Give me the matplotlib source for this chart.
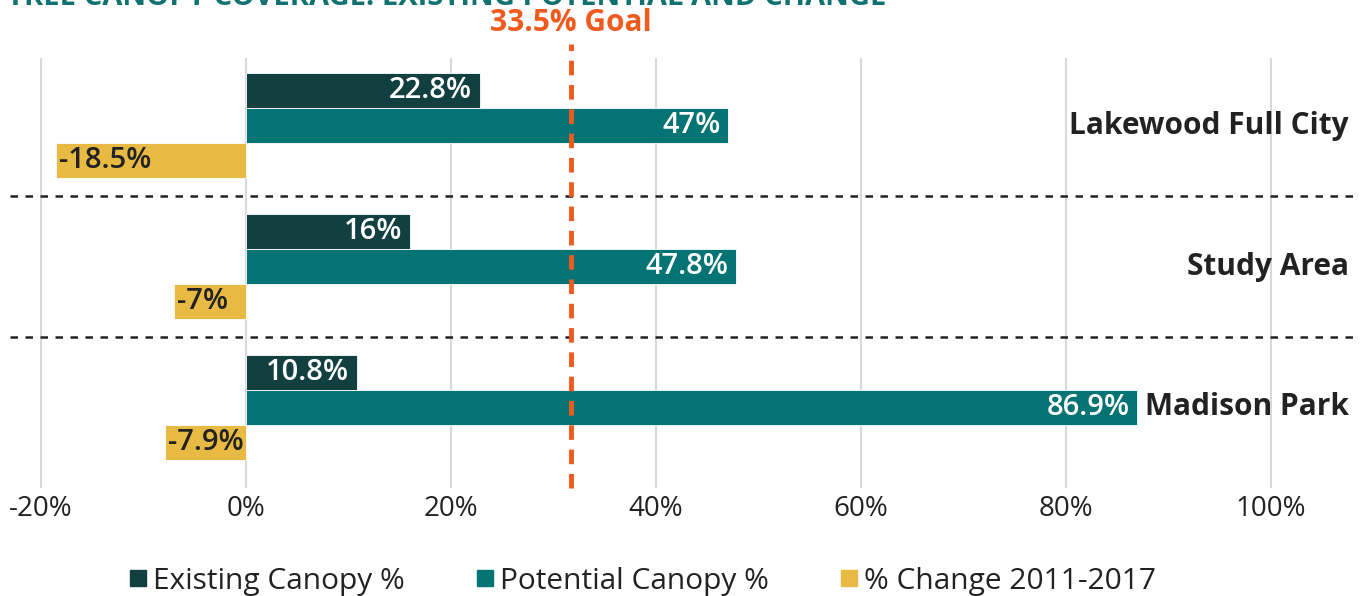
import numpy as np
import matplotlib.pyplot as plt
from matplotlib.lines import Line2D

plt.rcParams['font.family'] = ['Open Sans', 'DejaVu Sans']

areas = ['Lakewood Full City', 'Study Area', 'Madison Park']
existing = [22.8, 16, 10.8]
potential = [47, 47.8, 86.9]
change = [-18.5, -7, -7.9]
goal_x = 31.7
goal_label = '33.5% Goal'
xticks = [-20, 0, 20, 40, 60, 80, 100]
title = 'TREE CANOPY COVERAGE: EXISTING POTENTIAL AND CHANGE'

c_exist = '#123f40'
c_pot = '#037473'
c_change = '#e8b943'
c_goal = '#f05a1e'
c_text = '#222222'

fig = plt.figure(figsize=(13.7, 5.96), dpi=100)
ax = fig.add_axes([10 / 1370, 1 - 488 / 596, 1345 / 1370, 430 / 596])

y = np.arange(len(areas))
h = 0.248

ax.barh(y - h, existing, height=h, color=c_exist, edgecolor='white', linewidth=0.6, zorder=3)
ax.barh(y, potential, height=h, color=c_pot, edgecolor='white', linewidth=0.6, zorder=3)
ax.barh(y + h, change, height=h, color=c_change, edgecolor='white', linewidth=0.6, zorder=3)

for i in range(len(areas)):
    ax.text(existing[i] - 0.7, y[i] - h, '{:g}%'.format(existing[i]), color='white',
            fontsize=21, fontweight='semibold', ha='right', va='center', zorder=4)
    ax.text(potential[i] - 0.7, y[i], '{:g}%'.format(potential[i]), color='white',
            fontsize=21, fontweight='semibold', ha='right', va='center', zorder=4)
    ax.text(change[i] + 0.3, y[i] + h, '{:g}%'.format(change[i]), color=c_text,
            fontsize=21, fontweight='semibold', ha='left', va='center', zorder=4)
    ax.text(107.6, y[i], areas[i], color=c_text, fontsize=21.5, fontweight='bold',
            ha='right', va='center', zorder=4)

# dashed separators between groups
for s in [0.5, 1.5]:
    ax.axhline(s, color=c_text, linestyle=(0, (3, 3)), linewidth=1.8, zorder=2)

ax.set_xlim(-23, 108.2)
ax.set_ylim(2.571, -0.479)

ax.set_xticks(xticks)
ax.set_xticklabels(['{}%'.format(t) for t in xticks])
ax.tick_params(axis='x', length=0, labelsize=20, labelcolor=c_text, pad=5)
ax.set_yticks([])
ax.grid(axis='x', color='#d9d9d9', linewidth=1.5, zorder=0)
for sp in ax.spines.values():
    sp.set_visible(False)

# goal line
ax.plot([goal_x, goal_x], [2.571, -0.58], color=c_goal, linestyle=(0, (3, 2)),
        linewidth=3.5, zorder=5, clip_on=False)
ax.text(goal_x, -0.73, goal_label, color=c_goal, fontsize=21.5, fontweight='bold',
        ha='center', va='center', clip_on=False)

fig.text(0.005, 1.005, title, color='#117272', fontsize=21, fontweight='bold',
         ha='left', va='center')

handles = [Line2D([], [], marker='s', linestyle='', markersize=12, color=c) for c in [c_exist, c_pot, c_change]]
fig.legend(handles, ['Existing Canopy %', 'Potential Canopy %', '% Change 2011-2017'],
           loc='center', bbox_to_anchor=(0.469, 0.025), ncol=3, frameon=False,
           fontsize=21.5, handlelength=0.6, handletextpad=0.2, columnspacing=2.4,
           labelcolor=c_text)

fig.savefig('out.png', dpi=100)
